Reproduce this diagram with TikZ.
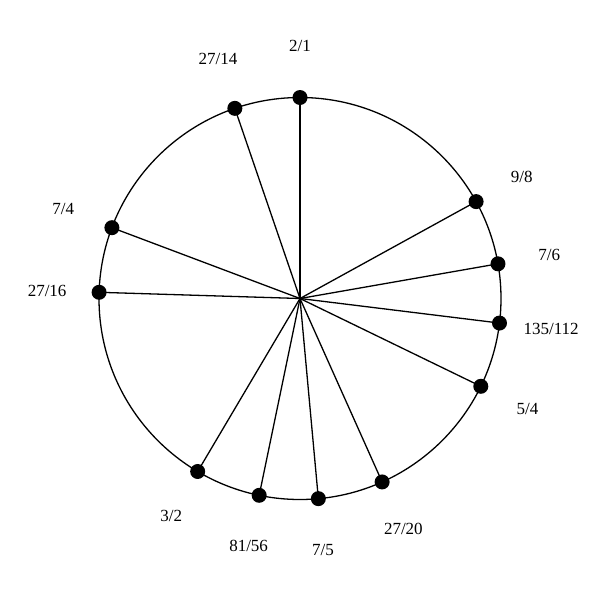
\documentclass[tikz,border=0pt]{standalone}
\usepackage{fontspec}
\setmainfont{Liberation Serif}
\usetikzlibrary{calc}
\begin{document}
\begin{tikzpicture}[x=1pt,y=1pt,
  spoke/.style={line width=1.3pt},
  ring/.style={line width=1.3pt},
  dotmark/.style={circle,fill=black,inner sep=0pt,minimum size=15pt},
  ratio/.style={font=\fontsize{17}{19}\selectfont,inner sep=0pt}]
\useasboundingbox (0,0) rectangle (600,-600);
\coordinate (c) at (300,-298.5);
\draw[ring] (c) circle (201);
\foreach \n/\r/\lab in {a/1/{2/1}, b/1.125/{9/8}, c7/1.1666667/{7/6}, d/1.2053571/{135/112}, e/1.25/{5/4}, f/1.35/{27/20}, g/1.4/{7/5}, h/1.4464286/{81/56}, i/1.5/{3/2}, j/1.6875/{27/16}, k/1.75/{7/4}, l/1.9285714/{27/14}}{
  \pgfmathsetmacro{\ang}{90-360*ln(\r)/ln(2)}
  \node[dotmark] (p\n) at ($(c)+(\ang:201)$) {};
  \draw[spoke] (c) -- (p\n.center);
  \node[ratio] (t\n) at ($(c)+(\ang:253)$) {\lab};
}
\end{tikzpicture}
\end{document}
